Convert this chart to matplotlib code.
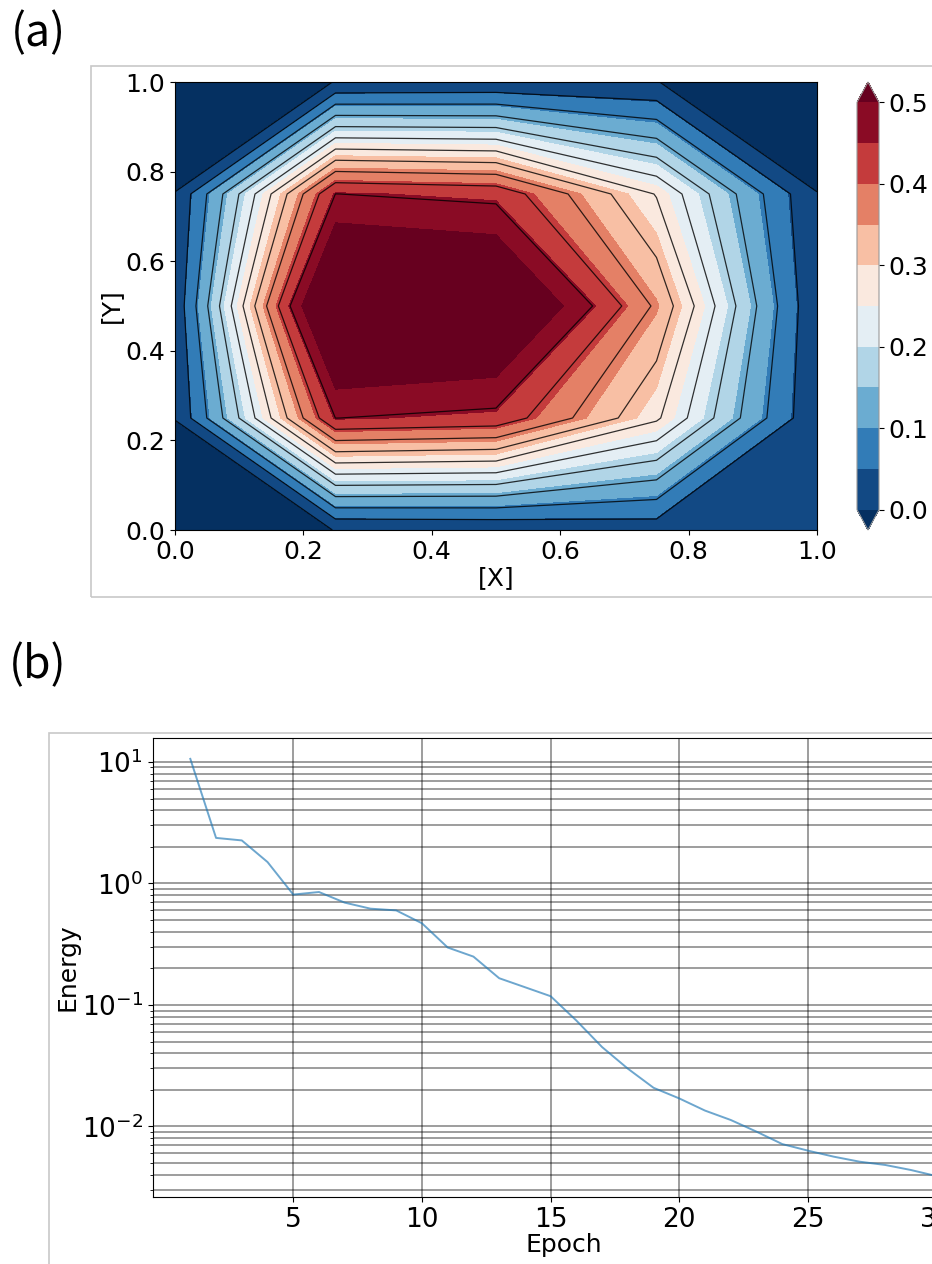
import numpy as np
import matplotlib
matplotlib.use("Agg")
import matplotlib.pyplot as plt
from matplotlib.patches import Rectangle

# ---- panel (a): 5x5 grid of u(x, y), rows go y = 0 .. 1
grid_x = [0.0, 0.25, 0.5, 0.75, 1.0]
grid_y = [0.0, 0.25, 0.5, 0.75, 1.0]
u_row_y00 = [-0.05, 0.001, 0.005, 0.02, 0.005]
u_row_y25 = [0.001, 0.455, 0.44, 0.28, 0.005]
u_row_y50 = [0.01, 0.63, 0.605, 0.355, 0.005]
u_row_y75 = [0.001, 0.455, 0.44, 0.27, 0.001]
u_row_y100 = [-0.05, 0.001, 0.005, 0.001, -0.05]
cbar_ticks = [0.0, 0.1, 0.2, 0.3, 0.4, 0.5]

# ---- panel (b): training energy per epoch
epochs = list(range(1, 31))
energy = [10.6, 2.37, 2.26, 1.50, 0.81, 0.85, 0.695, 0.62, 0.60, 0.47,
          0.297, 0.25, 0.166, 0.140, 0.118, 0.0744, 0.045, 0.0299, 0.0208, 0.017,
          0.0135, 0.0113, 0.00906, 0.00716, 0.00632, 0.00564, 0.00513, 0.00482, 0.00438, 0.0039]
epoch_ticks = [5, 10, 15, 20, 25, 30]

W, H = 932, 1264
fig = plt.figure(figsize=(W / 100, H / 100), dpi=100)

def fx(px):
    return px / W

def fy(py):
    return 1 - py / H

# light grey frames around each panel
fig.patches.append(Rectangle((fx(91), fy(597)), 1.0, (597 - 66) / H, transform=fig.transFigure,
                             fill=False, edgecolor="#c8c8c8", lw=1.2))
fig.patches.append(Rectangle((fx(49), -0.05), 1.0, fy(733) + 0.05, transform=fig.transFigure,
                             fill=False, edgecolor="#c8c8c8", lw=1.2))

lab_font = ["Noto Sans CJK JP", "DejaVu Sans"]
fig.text(fx(38), fy(33), "(a)", fontsize=32, family=lab_font, ha="center", va="center")
fig.text(fx(38), fy(665), "(b)", fontsize=32, family=lab_font, ha="center", va="center")

# ---- (a) contour map
X, Y = np.meshgrid(grid_x, grid_y)
Z = np.array([u_row_y00, u_row_y25, u_row_y50, u_row_y75, u_row_y100])

ax1 = fig.add_axes([fx(175), fy(530), 642 / W, 448 / H])
cf = ax1.contourf(X, Y, Z, levels=np.linspace(0, 0.5, 11), cmap="RdBu_r", extend="both")
ax1.contour(X, Y, Z, levels=np.linspace(0, 0.5, 12)[:-1], colors="k", linewidths=0.9, alpha=0.8)
ax1.set_xlim(0, 1)
ax1.set_ylim(0, 1)
ax1.set_xticks([0, 0.2, 0.4, 0.6, 0.8, 1.0])
ax1.set_yticks([0, 0.2, 0.4, 0.6, 0.8, 1.0])
ax1.tick_params(labelsize=18)
ax1.set_xlabel("[X]", fontsize=18, labelpad=2)
ax1.set_ylabel("[Y]", fontsize=18, labelpad=2)

cax = fig.add_axes([fx(857), fy(530), 22 / W, 448 / H])
cb = fig.colorbar(cf, cax=cax)
cb.set_ticks(cbar_ticks)
cb.ax.tick_params(labelsize=18)
cb.outline.set_edgecolor("#999999")

# ---- (b) energy curve
ax2 = fig.add_axes([fx(153), fy(1197), 821 / W, 459 / H])
ax2.semilogy(epochs, energy, color="#1f77b4", alpha=0.65, lw=1.4)
ax2.set_xticks(epoch_ticks)
ax2.grid(True, which="both", color="k", alpha=0.45, lw=1.2)
ax2.tick_params(labelsize=19)
ax2.set_xlabel("Epoch", fontsize=18, labelpad=0)
ax2.set_ylabel("Energy", fontsize=18, labelpad=2)

fig.savefig("out.png", dpi=100)
